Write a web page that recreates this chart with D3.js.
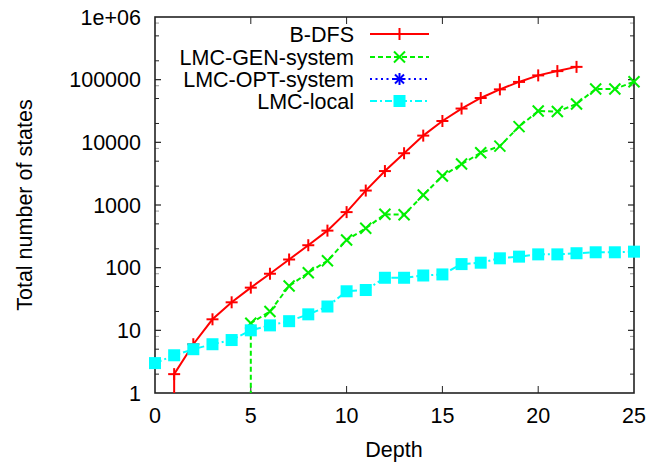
<!DOCTYPE html>
<html><head><meta charset="utf-8">
<script src="https://cdn.jsdelivr.net/npm/d3@7"></script>
<style>
html,body{margin:0;padding:0;background:#fff;}
svg{display:block;font-family:"Liberation Sans",Arial,sans-serif;}
</style></head>
<body><svg id="c" width="650" height="463"></svg>
<script>
// ---- data ----
const xTicks = [0, 5, 10, 15, 20, 25];
const yTicks = [1, 10, 100, 1000, 10000, 100000, 1000000];
const yTickLabels = ["1", "10", "100", "1000", "10000", "100000", "1e+06"];
const yMinorFactors = [2, 5, 8];
const seriesNames = ["B-DFS", "LMC-GEN-system", "LMC-OPT-system", "LMC-local"];
// first point of B-DFS and LMC-GEN-system lies below the axis range (drawn clipped)
const bdfsDepth  = [1, 1, 2, 3, 4, 5, 6, 7, 8, 9, 10, 11, 12, 13, 14, 15, 16, 17, 18, 19, 20, 21, 22];
const bdfsStates = [0.5, 2, 6, 15, 28, 48, 80, 135, 228, 390, 770, 1700, 3480, 6700, 12800, 21900, 34600, 51000, 70000, 92000, 117000, 137000, 160000];
const genDepth   = [5, 5, 6, 7, 8, 9, 10, 11, 12, 13, 14, 15, 16, 17, 18, 19, 20, 21, 22, 23, 24, 25];
const genStates  = [0.5, 13, 20, 51, 83, 129, 276, 425, 710, 700, 1440, 2900, 4500, 6800, 8700, 17800, 31600, 31000, 40900, 71000, 71000, 92700];
const optDepth   = [];
const optStates  = [];
const localDepth = [0, 1, 2, 3, 4, 5, 6, 7, 8, 9, 10, 11, 12, 13, 14, 15, 16, 17, 18, 19, 20, 21, 22, 23, 24, 25];
const localStates= [3, 4, 5, 6, 7, 10, 12, 14, 18, 24, 42, 44, 69, 69, 75, 78, 114, 120, 141, 150, 163, 163, 170, 176, 176, 180];

const styles = [
  {color:"#ff0000", dash:null,        marker:"plus"},
  {color:"#00f000", dash:"5,3",       marker:"cross"},
  {color:"#0000ff", dash:"2,3.5",     marker:"star"},
  {color:"#00ffff", dash:"7,3,2,3",   marker:"square"}
];
const seriesData = [
  bdfsDepth.map((d,i)=>({d, v:bdfsStates[i]})),
  genDepth.map((d,i)=>({d, v:genStates[i]})),
  optDepth.map((d,i)=>({d, v:optStates[i]})),
  localDepth.map((d,i)=>({d, v:localStates[i]}))
];

// ---- layout ----
const L = 155, R = 634, T = 17, B = 393;
const svg = d3.select("#c");
const x = d3.scaleLinear().domain([0, 25]).range([L, R]);
const y = d3.scaleLog().domain([1, 1e6]).range([B, T]);
const FS = "21.5px";

svg.append("defs").append("clipPath").attr("id","clip")
  .append("rect").attr("x",L).attr("y",T).attr("width",R-L).attr("height",B-T);

const axisColor = "#222";
// x ticks (bottom and mirrored top)
const gx = svg.append("g");
xTicks.forEach(t=>{
  if (t>0 && t<25) {
    gx.append("line").attr("x1",x(t)).attr("x2",x(t)).attr("y1",B).attr("y2",B-7).attr("stroke",axisColor).attr("stroke-width",1);
    gx.append("line").attr("x1",x(t)).attr("x2",x(t)).attr("y1",T).attr("y2",T+7).attr("stroke",axisColor).attr("stroke-width",1);
  }
  gx.append("text").attr("x",x(t)).attr("y",423).attr("text-anchor","middle")
    .attr("font-size",FS).attr("fill","#000").text(t);
});
// y ticks
const gy = svg.append("g");
yTicks.forEach((t,i)=>{
  if (i>0 && i<yTicks.length-1) {
    gy.append("line").attr("x1",L).attr("x2",L+6).attr("y1",y(t)).attr("y2",y(t)).attr("stroke",axisColor).attr("stroke-width",1.2);
    gy.append("line").attr("x1",R).attr("x2",R-6).attr("y1",y(t)).attr("y2",y(t)).attr("stroke",axisColor).attr("stroke-width",1.2);
  }
  gy.append("text").attr("x",141).attr("y",y(t)).attr("dy","0.36em").attr("text-anchor","end")
    .attr("font-size",FS).attr("fill","#000").text(yTickLabels[i]);
  if (i<yTicks.length-1) {
    yMinorFactors.forEach(f=>{
      const v = t*f, col = f===8 ? "#999" : axisColor;
      gy.append("line").attr("x1",L).attr("x2",L+4).attr("y1",y(v)).attr("y2",y(v)).attr("stroke",col).attr("stroke-width",1);
      gy.append("line").attr("x1",R).attr("x2",R-4).attr("y1",y(v)).attr("y2",y(v)).attr("stroke",col).attr("stroke-width",1);
    });
  }
});
// border
svg.append("rect").attr("x",L).attr("y",T).attr("width",R-L).attr("height",B-T)
  .attr("fill","none").attr("stroke",axisColor).attr("stroke-width",1.6);

// axis titles
svg.append("text").attr("x",394).attr("y",457).attr("text-anchor","middle")
  .attr("font-size",FS).attr("fill","#000").text("Depth");
svg.append("text").attr("transform","translate(32,205) rotate(-90)").attr("text-anchor","middle")
  .attr("font-size",FS).attr("fill","#000").text("Total number of states");

// markers
function drawMarker(g, type, cx, cy, color) {
  const s = 6;
  if (type==="plus" || type==="star") {
    g.append("line").attr("x1",cx-s).attr("x2",cx+s).attr("y1",cy).attr("y2",cy).attr("stroke",color).attr("stroke-width",2);
    g.append("line").attr("x1",cx).attr("x2",cx).attr("y1",cy-s).attr("y2",cy+s).attr("stroke",color).attr("stroke-width",2);
  }
  if (type==="cross" || type==="star") {
    const k = type==="star" ? 4.5 : 5.5;
    g.append("line").attr("x1",cx-k).attr("x2",cx+k).attr("y1",cy-k).attr("y2",cy+k).attr("stroke",color).attr("stroke-width",2);
    g.append("line").attr("x1",cx-k).attr("x2",cx+k).attr("y1",cy+k).attr("y2",cy-k).attr("stroke",color).attr("stroke-width",2);
  }
  if (type==="square") {
    g.append("rect").attr("x",cx-6).attr("y",cy-6).attr("width",12).attr("height",12).attr("fill",color);
  }
}

// series
const line = d3.line().x(p=>x(p.d)).y(p=>y(Math.max(p.v,0.01)));
seriesData.forEach((data,si)=>{
  const st = styles[si];
  const g = svg.append("g");
  if (data.length) {
    g.append("path").datum(data).attr("d",line).attr("fill","none")
      .attr("stroke",st.color).attr("stroke-width",2)
      .attr("stroke-dasharray",st.dash).attr("clip-path","url(#clip)");
    data.filter(p=>p.v>=1).forEach(p=>drawMarker(g, st.marker, x(p.d), y(p.v), st.color));
  }
});

// legend
const legY = [34, 57, 79, 101];
seriesNames.forEach((name,i)=>{
  const st = styles[i];
  const g = svg.append("g");
  g.append("text").attr("x",354).attr("y",legY[i]).attr("dy","0.36em").attr("text-anchor","end")
    .attr("font-size",FS).attr("fill","#000").text(name);
  g.append("line").attr("x1",370).attr("x2",429).attr("y1",legY[i]).attr("y2",legY[i])
    .attr("stroke",st.color).attr("stroke-width",2).attr("stroke-dasharray",st.dash);
  drawMarker(g, st.marker, 399.5, legY[i], st.color);
});
</script></body></html>
